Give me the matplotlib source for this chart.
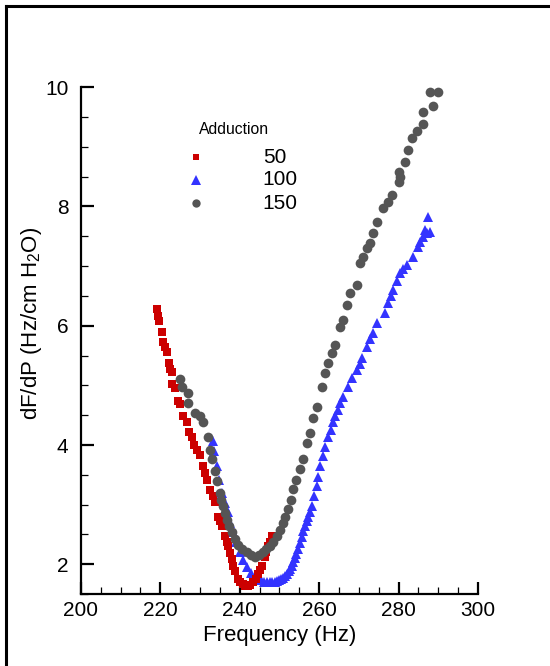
import matplotlib
matplotlib.use("Agg")
import matplotlib.pyplot as plt
from matplotlib.lines import Line2D
from matplotlib.ticker import MultipleLocator

plt.rcParams['font.family'] = ['Liberation Sans', 'DejaVu Sans']
plt.rcParams['mathtext.default'] = 'regular'

# Adduction 50 (red squares)
f50 = [219.1, 219.4, 219.6, 220.4, 220.7, 221.2, 221.7, 222.2, 222.4, 222.9,
       222.9, 223.7, 224.4, 224.9, 225.7, 226.7, 227.2, 228.0, 228.6, 229.3,
       230.0, 230.7, 231.2, 231.7, 232.5, 233.2, 233.8, 234.5, 235.0, 235.5,
       236.3, 236.7, 237.0, 237.5, 238.0, 238.4, 238.8, 239.5, 240.1, 240.8,
       241.4, 242.0, 242.7, 243.3, 244.0, 244.6, 245.1, 245.6, 246.3, 246.7,
       247.1, 247.6, 248.1]
dfdp50 = [6.28, 6.17, 6.08, 5.90, 5.73, 5.65, 5.56, 5.38, 5.28, 5.23,
          5.03, 4.95, 4.73, 4.68, 4.49, 4.39, 4.21, 4.14, 4.00, 3.92,
          3.84, 3.64, 3.53, 3.42, 3.25, 3.14, 3.04, 2.80, 2.72, 2.64,
          2.47, 2.38, 2.30, 2.19, 2.08, 1.97, 1.88, 1.75, 1.70, 1.67,
          1.64, 1.63, 1.66, 1.70, 1.76, 1.83, 1.90, 1.97, 2.13, 2.21,
          2.30, 2.38, 2.47]

# Adduction 100 (blue triangles)
f100 = [233.2, 233.6, 234.3, 234.9, 235.5, 236.2, 237.0, 237.6, 238.3, 239.1,
        240.0, 240.9, 241.8, 242.8, 243.8, 244.5, 245.3, 246.1, 246.9, 247.6,
        248.2, 248.8, 249.4, 250.0, 250.5, 251.0, 251.4, 251.9, 252.3, 252.7,
        253.1, 253.5, 253.9, 254.3, 254.7, 255.2, 255.6, 256.0, 256.4, 256.9,
        257.3, 257.7, 258.2, 258.8, 259.4, 259.8, 260.2, 261.0, 261.6, 262.2,
        262.9, 263.5, 264.1, 264.7, 265.3, 266.0, 267.2, 268.3, 269.5, 270.2,
        270.8, 272.0, 272.8, 273.5, 274.6, 276.6, 277.3, 278.0, 278.6, 279.5,
        280.4, 281.2, 282.1, 283.6, 284.9, 285.5, 286.1, 286.6, 287.2, 287.8,
        287.4]
dfdp100 = [4.06, 3.90, 3.64, 3.42, 3.20, 3.03, 2.87, 2.70, 2.54, 2.37,
           2.20, 2.07, 1.95, 1.86, 1.78, 1.75, 1.73, 1.71, 1.70, 1.70,
           1.70, 1.71, 1.72, 1.73, 1.75, 1.77, 1.80, 1.84, 1.88, 1.92,
           1.97, 2.03, 2.10, 2.17, 2.25, 2.35, 2.45, 2.55, 2.64, 2.72,
           2.80, 2.88, 2.97, 3.14, 3.31, 3.47, 3.64, 3.81, 3.97, 4.14,
           4.26, 4.38, 4.48, 4.59, 4.70, 4.81, 4.97, 5.13, 5.26, 5.36,
           5.46, 5.65, 5.77, 5.88, 6.05, 6.22, 6.38, 6.50, 6.60, 6.75,
           6.89, 6.95, 7.02, 7.16, 7.32, 7.40, 7.49, 7.61, 7.55, 7.58,
           7.82]

# Adduction 150 (grey circles)
f150 = [224.9, 225.4, 227.0, 227.0, 228.7, 230.0, 230.7, 232.0, 232.5, 233.0,
        233.8, 234.3, 235.0, 235.4, 235.8, 236.3, 236.8, 237.4, 238.0, 238.7,
        239.5, 240.6, 241.8, 242.8, 243.8, 244.8, 245.8, 246.7, 247.6, 248.5,
        249.4, 250.2, 250.9, 251.5, 252.1, 252.8, 253.4, 254.3, 255.2, 255.9,
        256.9, 257.7, 258.4, 259.4, 260.7, 261.5, 262.2, 263.2, 264.0, 265.2,
        266.0, 267.0, 267.8, 269.5, 270.3, 271.0, 272.0, 272.8, 273.5, 274.6,
        276.0, 277.3, 278.3, 280.1, 280.4, 280.1, 281.6, 282.4, 283.4, 284.6,
        286.1, 286.1, 288.7, 287.9, 289.9]
dfdp150 = [5.10, 4.98, 4.88, 4.71, 4.54, 4.48, 4.38, 4.14, 3.92, 3.76,
           3.56, 3.39, 3.20, 3.08, 2.97, 2.86, 2.75, 2.64, 2.54, 2.43,
           2.33, 2.26, 2.20, 2.15, 2.13, 2.15, 2.20, 2.25, 2.30, 2.38,
           2.47, 2.58, 2.70, 2.80, 2.92, 3.08, 3.26, 3.42, 3.59, 3.76,
           4.04, 4.20, 4.45, 4.64, 4.98, 5.21, 5.38, 5.55, 5.68, 5.98,
           6.10, 6.35, 6.55, 6.69, 7.05, 7.15, 7.31, 7.39, 7.56, 7.74,
           7.97, 8.08, 8.19, 8.41, 8.49, 8.58, 8.74, 8.94, 9.15, 9.26,
           9.39, 9.58, 9.68, 9.92, 9.92]

labels = ['50', '100', '150']
colors = ['#cc0000', '#3333ff', '#555555']
markers = ['s', '^', 'o']

fig = plt.figure(figsize=(5.5, 6.66), dpi=100)
ax = fig.add_axes([0.147, 0.108, 0.722, 0.761])

ax.plot(f100, dfdp100, ls='none', marker='^', ms=7.5, mew=0, color=colors[1])
ax.plot(f50, dfdp50, ls='none', marker='s', ms=6, mew=0, color=colors[0])
ax.plot(f150, dfdp150, ls='none', marker='o', ms=7, mew=0, color=colors[2])

ax.set_xlim(200, 300)
ax.set_ylim(1.5, 10)
ax.xaxis.set_major_locator(MultipleLocator(20))
ax.xaxis.set_minor_locator(MultipleLocator(5))
ax.yaxis.set_major_locator(MultipleLocator(2))
ax.yaxis.set_minor_locator(MultipleLocator(0.5))
ax.tick_params(which='both', direction='in', top=False, right=False)
ax.tick_params(which='major', length=9, width=1.6, labelsize=15)
ax.tick_params(which='minor', length=5, width=0.9)
ax.tick_params(axis='x', which='major', pad=5)
ax.tick_params(axis='y', which='major', pad=9)
for s in ['top', 'right']:
    ax.spines[s].set_visible(False)
for s in ['left', 'bottom']:
    ax.spines[s].set_linewidth(1.6)

ax.set_xlabel('Frequency (Hz)', fontsize=16)
ax.set_ylabel('dF/dP (Hz/cm H$_2$O)', fontsize=16)
ax.xaxis.set_label_coords(0.501, -0.061)
ax.yaxis.set_label_coords(-0.094, 0.534)

# legend drawn by hand
ax.text(0.297, 0.917, 'Adduction', transform=ax.transAxes, fontsize=11.3,
        ha='left', va='center')
leg_y = [0.862, 0.817, 0.771]
leg_ms = [5, 6.5, 6]
for lab, c, m, yy, ms in zip(labels, colors, markers, leg_y, leg_ms):
    ax.plot([0.29], [yy], transform=ax.transAxes, ls='none', marker=m, ms=ms,
            mew=0, color=c, clip_on=False)
    ax.text(0.458, yy, lab, transform=ax.transAxes, fontsize=15,
            ha='left', va='center')

# outer frame (left and top edges)
fig.add_artist(Line2D([0.011, 0.011], [0.0, 0.991], color='black', lw=2.2,
                      transform=fig.transFigure))
fig.add_artist(Line2D([0.011, 1.0], [0.991, 0.991], color='black', lw=2.2,
                      transform=fig.transFigure))

fig.savefig('out.png', dpi=100)
